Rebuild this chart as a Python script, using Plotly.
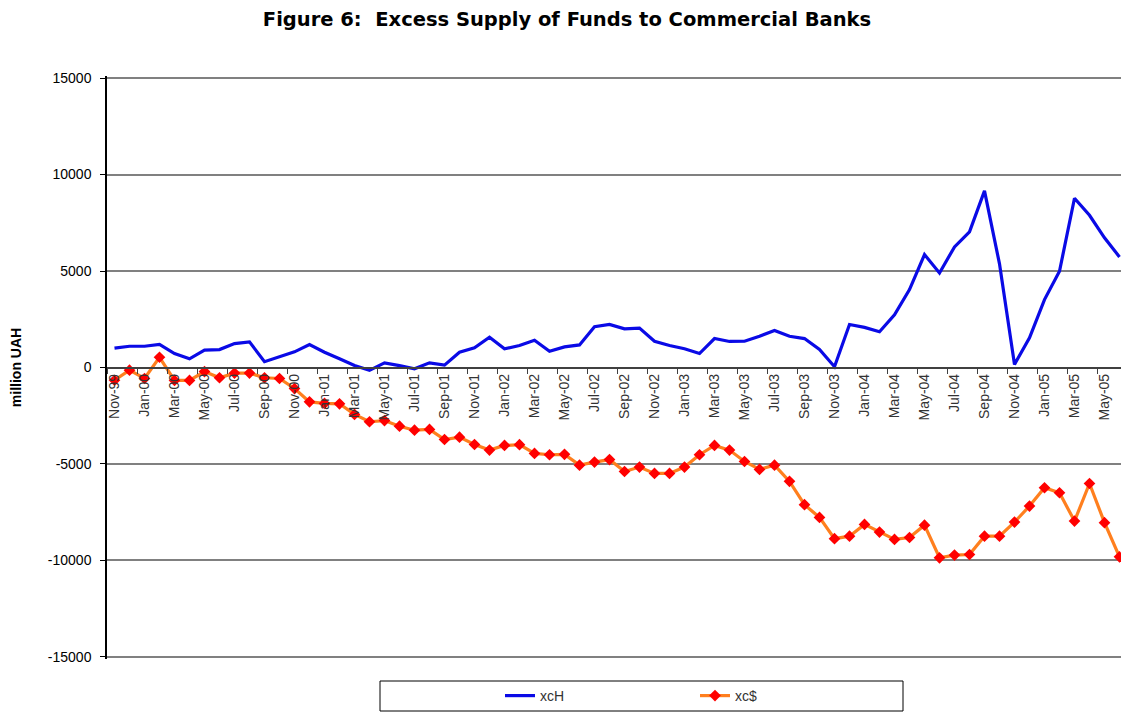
import plotly.graph_objects as go

months = [
    "Nov-99", "Dec-99",
    "Jan-00", "Feb-00", "Mar-00", "Apr-00", "May-00", "Jun-00",
    "Jul-00", "Aug-00", "Sep-00", "Oct-00", "Nov-00", "Dec-00",
    "Jan-01", "Feb-01", "Mar-01", "Apr-01", "May-01", "Jun-01",
    "Jul-01", "Aug-01", "Sep-01", "Oct-01", "Nov-01", "Dec-01",
    "Jan-02", "Feb-02", "Mar-02", "Apr-02", "May-02", "Jun-02",
    "Jul-02", "Aug-02", "Sep-02", "Oct-02", "Nov-02", "Dec-02",
    "Jan-03", "Feb-03", "Mar-03", "Apr-03", "May-03", "Jun-03",
    "Jul-03", "Aug-03", "Sep-03", "Oct-03", "Nov-03", "Dec-03",
    "Jan-04", "Feb-04", "Mar-04", "Apr-04", "May-04", "Jun-04",
    "Jul-04", "Aug-04", "Sep-04", "Oct-04", "Nov-04", "Dec-04",
    "Jan-05", "Feb-05", "Mar-05", "Apr-05", "May-05", "Jun-05",
]

xcH = [
    1000, 1100,
    1100, 1200, 720, 450, 900, 930,
    1240, 1330, 300, 550, 810, 1190,
    790, 450, 100, -150, 240, 100,
    -70, 240, 120, 790, 1020, 1570,
    970, 1140, 1410, 840, 1070, 1170,
    2110, 2230, 2000, 2040, 1360, 1140,
    970, 725, 1500, 1350, 1360, 1620,
    1920, 1620, 1500, 930, 40, 2230,
    2080, 1850, 2730, 4040, 5850, 4900,
    6250, 7030, 9150, 5370, 160, 1540,
    3520, 4990, 8770, 7890, 6720, 5730,
]

xc_usd = [
    -660, -140,
    -570, 530, -670, -670, -210, -530,
    -290, -290, -530, -570, -1090, -1780,
    -1860, -1880, -2430, -2810, -2750, -3040,
    -3250, -3210, -3730, -3610, -3990, -4280,
    -4040, -4000, -4450, -4520, -4500, -5060,
    -4900, -4770, -5390, -5160, -5490, -5490,
    -5160, -4520, -4040, -4280, -4870, -5280,
    -5060, -5900, -7110, -7770, -8870, -8740,
    -8130, -8530, -8910, -8810, -8170, -9860,
    -9720, -9690, -8740, -8740, -8010, -7180,
    -6230, -6490, -7960, -6010, -8040, -9810,
]

y_ticks = [-15000, -10000, -5000, 0, 5000, 10000, 15000]
y_tick_text = ["-15000", "-10000", "-5000", "0", "5000", "10000", "15000"]

x_idx = list(range(len(months)))
label_idx = x_idx[::2]
label_text = [months[i] for i in label_idx]

W, H = 1121, 713
ML, MR, MT, MB = 107, 0, 76, 54
PW = W - ML - MR
PH = H - MT - MB
Y_PAD = 105  # small headroom so the +/-15000 gridlines are drawn


def px_to_paper_x(px):
    return (px - ML) / PW


def px_to_paper_y(py):
    return (H - MB - py) / PH


fig = go.Figure()
fig.add_trace(go.Scatter(
    x=x_idx, y=xcH, name="xcH", mode="lines",
    line=dict(color="#0A0AE6", width=3.2),
))
fig.add_trace(go.Scatter(
    x=x_idx, y=xc_usd, name="xc$", mode="lines+markers",
    line=dict(color="#FF7F1E", width=3.2),
    marker=dict(symbol="diamond", size=9, color="#FF0000"),
))

font_family = "Liberation Sans, Arial, sans-serif"

fig.update_layout(
    width=W, height=H,
    margin=dict(l=ML, r=MR, t=MT, b=MB, pad=0),
    paper_bgcolor="white", plot_bgcolor="white",
    font=dict(family=font_family, color="#000000"),
    title=dict(
        text="<b>Figure 6:  Excess Supply of Funds to Commercial Banks</b>",
        x=567 / W, xref="container", xanchor="center",
        y=1 - 19 / H, yref="container", yanchor="middle",
        font=dict(size=19.5, family="DejaVu Sans, sans-serif", color="#000000"),
    ),
    showlegend=True,
    legend=dict(
        orientation="h",
        x=px_to_paper_x(695), xanchor="center",
        y=px_to_paper_y(696), yanchor="middle",
        bgcolor="rgba(0,0,0,0)", borderwidth=0,
        font=dict(size=14, color="#333333", family=font_family),
        entrywidth=150, itemwidth=30,
    ),
    xaxis=dict(
        range=[-0.5, -0.5 + PW / 15.0],
        anchor="free", position=0.5,
        tickmode="array", tickvals=label_idx, ticktext=label_text,
        tickangle=-90, ticks="",
        tickfont=dict(size=14, color="#333333", family=font_family),
        showline=True, linecolor="#404040", linewidth=1.5,
        showgrid=False, zeroline=False,
        minor=dict(tickvals=[i - 0.5 for i in label_idx], ticks="outside",
                   ticklen=6, tickcolor="#404040", tickwidth=1.2),
    ),
    yaxis=dict(
        range=[-15000 - Y_PAD, 15000 + Y_PAD],
        tickmode="array", tickvals=y_ticks, ticktext=y_tick_text,
        ticks="outside", ticklen=5, tickcolor="#000000",
        ticklabelstandoff=6,
        tickfont=dict(size=14, color="#000000", family=font_family),
        showline=True, linecolor="#000000", linewidth=1.5,
        showgrid=True, gridcolor="#808080", gridwidth=1.5,
        zeroline=False,
        title=dict(text="<b>million UAH</b>", standoff=23,
                   font=dict(size=14, family=font_family, color="#000000")),
    ),
    shapes=[dict(
        type="rect", xref="paper", yref="paper",
        x0=px_to_paper_x(380), x1=px_to_paper_x(903),
        y0=px_to_paper_y(711), y1=px_to_paper_y(681),
        line=dict(color="#000000", width=1), fillcolor="rgba(0,0,0,0)",
    )],
)

fig.write_html("out.html")
